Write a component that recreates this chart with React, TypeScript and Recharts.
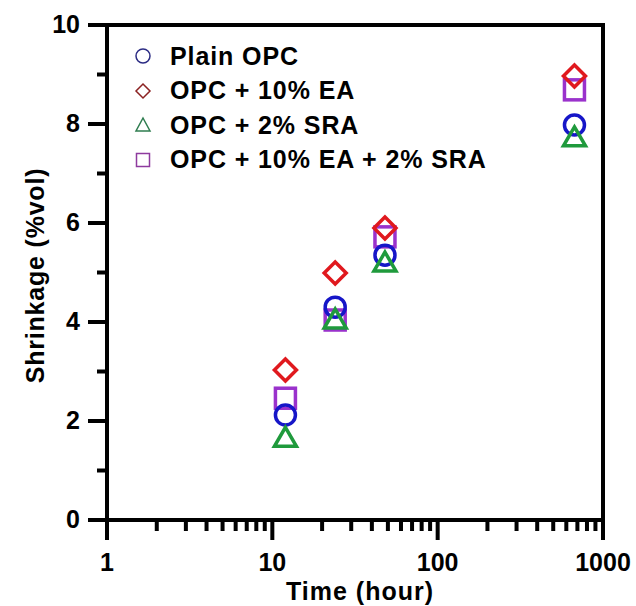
import React from "react";
import { ScatterChart, Scatter, XAxis, YAxis } from "recharts";

// curing time (hours) and shrinkage (% by volume) per mix
const HOURS = [12, 24, 48, 672];
const PLAIN_OPC = [2.12, 4.3, 5.35, 7.98];
const OPC_EA = [3.03, 4.99, 5.9, 8.97];
const OPC_SRA = [1.67, 4.06, 5.21, 7.74];
const OPC_EA_SRA = [2.46, 4.04, 5.72, 8.69];

const X_TICKS = [
  1, 2, 3, 4, 5, 6, 7, 8, 9,
  10, 20, 30, 40, 50, 60, 70, 80, 90,
  100, 200, 300, 400, 500, 600, 700, 800, 900,
  1000,
];
const Y_TICKS = [0, 1, 2, 3, 4, 5, 6, 7, 8, 9, 10];

const FONT = "'Liberation Sans', Arial, Helvetica, sans-serif";
const BLUE = "#1616c8";
const RED = "#e0191e";
const GREEN = "#1f9a3c";
const PURPLE = "#9a32cc";
const INK = "#000";
const TICK_W = 4;

const toPoints = (ys: number[]) => HOURS.map((x, i) => ({ x, y: ys[i] }));

const labelStyle: React.CSSProperties = {
  fontFamily: FONT,
  fontWeight: "bold",
  fontSize: 25,
  fill: INK,
};

const isDecade = (v: number) => {
  const l = Math.log10(v);
  return Math.abs(l - Math.round(l)) < 1e-6;
};

// tick marks are filled bars; decades / even values get the long ones
const BottomTick = (props: any) => {
  const { x, y, payload } = props;
  const major = isDecade(payload.value);
  return (
    <g>
      <rect x={x - TICK_W / 2} y={y} width={TICK_W} height={major ? 20 : 11} fill={INK} />
      {major && (
        <text x={x} y={y + 51} textAnchor="middle" style={labelStyle}>
          {payload.value}
        </text>
      )}
    </g>
  );
};

const TopTick = (props: any) => {
  const { x, y, payload } = props;
  const len = isDecade(payload.value) ? 18 : 10;
  return <rect x={x - TICK_W / 2} y={y - len} width={TICK_W} height={len} fill={INK} />;
};

const LeftTick = (props: any) => {
  const { x, y, payload } = props;
  const major = payload.value % 2 === 0;
  const len = major ? 19 : 10;
  return (
    <g>
      <rect x={x - len} y={y - TICK_W / 2} width={len} height={TICK_W} fill={INK} />
      {major && (
        <text x={x - 27} y={y + 8} textAnchor="end" style={labelStyle}>
          {payload.value}
        </text>
      )}
    </g>
  );
};

const RightTick = (props: any) => {
  const { x, y, payload } = props;
  const len = payload.value % 2 === 0 ? 18 : 10;
  return <rect x={x} y={y - TICK_W / 2} width={len} height={TICK_W} fill={INK} />;
};

const YTitle = (props: any) => {
  const { x, y, height } = props.viewBox;
  const cx = x - 12;
  const cy = y + height / 2 + 3;
  return (
    <text
      x={cx}
      y={cy}
      transform={`rotate(-90, ${cx}, ${cy})`}
      textAnchor="middle"
      dominantBaseline="central"
      style={{ ...labelStyle, letterSpacing: 0.8 }}
    >
      Shrinkage (%vol)
    </text>
  );
};

const XTitle = (props: any) => {
  const { x, y, width } = props.viewBox;
  return (
    <text x={x + width / 2 + 5} y={y + 80} textAnchor="middle" style={{ ...labelStyle, letterSpacing: 1 }}>
      Time (hour)
    </text>
  );
};

// open data markers
const CircleMark = ({ cx, cy }: any) => (
  <circle cx={cx} cy={cy} r={10} fill="none" stroke={BLUE} strokeWidth={3.5} />
);
const DiamondMark = ({ cx, cy }: any) => (
  <polygon
    points={`${cx},${cy - 11} ${cx + 11},${cy} ${cx},${cy + 11} ${cx - 11},${cy}`}
    fill="none"
    stroke={RED}
    strokeWidth={3.5}
  />
);
const TriangleMark = ({ cx, cy }: any) => (
  <polygon
    points={`${cx},${cy - 10} ${cx + 11},${cy + 9} ${cx - 11},${cy + 9}`}
    fill="none"
    stroke={GREEN}
    strokeWidth={3.5}
  />
);
const SquareMark = ({ cx, cy }: any) => (
  <rect x={cx - 10} y={cy - 10} width={20} height={20} fill="none" stroke={PURPLE} strokeWidth={3.5} />
);

const LEGEND_ITEMS = [
  { name: "Plain OPC", color: "#2c2c84", kind: "circle" },
  { name: "OPC + 10% EA", color: "#8b2222", kind: "diamond" },
  { name: "OPC + 2% SRA", color: "#2f7d50", kind: "triangle" },
  { name: "OPC + 10% EA + 2% SRA", color: "#8e3b9e", kind: "square" },
];

const LegendSymbol = ({ kind, color }: { kind: string; color: string }) => (
  <svg width={24} height={24} style={{ display: "block", flex: "none" }}>
    {kind === "circle" && <circle cx={12} cy={12} r={7} fill="none" stroke={color} strokeWidth={1.5} />}
    {kind === "diamond" && (
      <polygon points="12,5 19,12 12,19 5,12" fill="none" stroke={color} strokeWidth={1.5} />
    )}
    {kind === "triangle" && (
      <polygon points="12,5 19,18 5,18" fill="none" stroke={color} strokeWidth={1.5} />
    )}
    {kind === "square" && (
      <rect x={5.5} y={5.5} width={13} height={13} fill="none" stroke={color} strokeWidth={1.5} />
    )}
  </svg>
);

const LegendBox = () => (
  <div
    style={{
      position: "absolute",
      left: 131,
      top: 39,
      fontFamily: FONT,
      fontWeight: "bold",
      fontSize: 25,
      letterSpacing: 0.9,
      color: INK,
      lineHeight: 1,
    }}
  >
    {LEGEND_ITEMS.map((item) => (
      <div key={item.name} style={{ display: "flex", alignItems: "center", height: 34.5 }}>
        <LegendSymbol kind={item.kind} color={item.color} />
        <span style={{ marginLeft: 15, whiteSpace: "nowrap" }}>{item.name}</span>
      </div>
    ))}
  </div>
);

const frameLine = { stroke: INK, strokeWidth: 4, strokeLinecap: "square" as const };

export default function App() {
  return (
    <div style={{ position: "absolute", left: 0, top: 0, width: 636, height: 606 }}>
      <ScatterChart width={636} height={606} margin={{ top: 5, right: 3, bottom: 26, left: 47 }}>
        <XAxis
          dataKey="x"
          type="number"
          scale="log"
          domain={[1, 1000]}
          ticks={X_TICKS}
          interval={0}
          height={60}
          tickSize={0}
          tickMargin={0}
          tick={BottomTick}
          tickLine={false}
          axisLine={frameLine}
          label={{ content: XTitle }}
        />
        <XAxis
          xAxisId="top"
          orientation="top"
          dataKey="x"
          type="number"
          scale="log"
          domain={[1, 1000]}
          ticks={X_TICKS}
          interval={0}
          height={20}
          tickSize={0}
          tickMargin={0}
          tick={TopTick}
          tickLine={false}
          axisLine={frameLine}
        />
        <YAxis
          dataKey="y"
          type="number"
          domain={[0, 10]}
          ticks={Y_TICKS}
          interval={0}
          width={60}
          tickSize={0}
          tickMargin={0}
          tick={LeftTick}
          tickLine={false}
          axisLine={frameLine}
          label={{ content: YTitle }}
        />
        <YAxis
          yAxisId="right"
          orientation="right"
          dataKey="y"
          type="number"
          domain={[0, 10]}
          ticks={Y_TICKS}
          interval={0}
          width={30}
          tickSize={0}
          tickMargin={0}
          tick={RightTick}
          tickLine={false}
          axisLine={frameLine}
        />
        <Scatter name="OPC + 10% EA + 2% SRA" data={toPoints(OPC_EA_SRA)} shape={SquareMark} isAnimationActive={false} />
        <Scatter name="Plain OPC" data={toPoints(PLAIN_OPC)} shape={CircleMark} isAnimationActive={false} />
        <Scatter name="OPC + 10% EA" data={toPoints(OPC_EA)} shape={DiamondMark} isAnimationActive={false} />
        <Scatter name="OPC + 2% SRA" data={toPoints(OPC_SRA)} shape={TriangleMark} isAnimationActive={false} />
      </ScatterChart>
      <LegendBox />
    </div>
  );
}
